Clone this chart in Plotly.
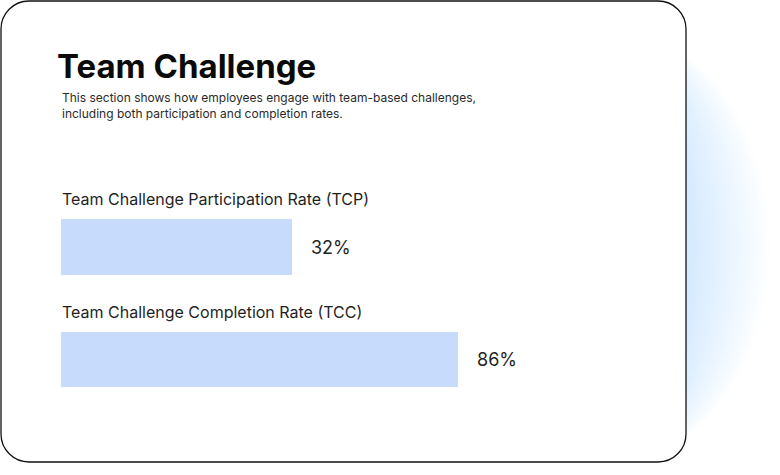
import plotly.graph_objects as go

# ---- data ----
categories = ["Team Challenge Participation Rate (TCP)", "Team Challenge Completion Rate (TCC)"]
rates = [32, 86]
rate_labels = ["32%", "86%"]
title_text = "Team Challenge"
subtitle_lines = [
    "This section shows how employees engage with team-based challenges,",
    "including both participation and completion rates.",
]

W, H = 780, 475
FONT = "Inter, Roboto, Arial, sans-serif"
BAR_COLOR = "#c7dbfc"

def px(x):
    return x / W

def py(y):
    return 1 - y / H

# each bar lives in its own container (own x-axis), as in the source layout
axis_max = [83, 130]
bar_rows = [(219, 275), (332, 387)]  # pixel rows of the two containers
x_dom = [px(61), px(661)]

fig = go.Figure()
annotations = []
layout_axes = {}
for i, (cat, val, lab) in enumerate(zip(categories, rates, rate_labels)):
    sfx = "" if i == 0 else str(i + 1)
    fig.add_trace(go.Bar(
        x=[val], y=[0], orientation="h", width=1,
        marker=dict(color=BAR_COLOR, line=dict(width=0)),
        xaxis="x" + sfx, yaxis="y" + sfx, hoverinfo="skip", showlegend=False,
    ))
    top, bot = bar_rows[i]
    layout_axes["xaxis" + sfx] = dict(domain=x_dom, range=[0, axis_max[i]], visible=False,
                                      anchor="y" + sfx, fixedrange=True)
    layout_axes["yaxis" + sfx] = dict(domain=[py(bot), py(top)], range=[-0.5, 0.5], visible=False,
                                      anchor="x" + sfx, fixedrange=True)
    annotations.append(dict(
        text=cat, xref="x" + sfx + " domain", yref="y" + sfx + " domain", x=0, y=1,
        xanchor="left", yanchor="middle", yshift=20, xshift=-1, showarrow=False,
        font=dict(family=FONT, size=16, color="#1f1f1f"),
    ))
    annotations.append(dict(
        text=lab, xref="x" + sfx, yref="y" + sfx, x=val, y=0,
        xanchor="left", yanchor="middle", xshift=17, showarrow=False,
        font=dict(family=FONT, size=18, color="#1f1f1f"),
    ))

annotations.append(dict(
    text="<b>" + title_text + "</b>", xref="paper", yref="paper", x=px(55), y=py(66),
    xanchor="left", yanchor="middle", showarrow=False,
    font=dict(family=FONT, size=33, color="#0a0a0a"),
))
annotations.append(dict(
    text="<br>".join(subtitle_lines), xref="paper", yref="paper", x=px(60), y=py(105),
    xanchor="left", yanchor="middle", align="left", showarrow=False,
    font=dict(family=FONT, size=12, color="#2a2a2a"),
))

shapes = []
# soft blue glow behind the card's right edge
N = 20
for k in range(N):
    t = k / (N - 1)
    rx = 150 - 75 * t
    ry = 212 - 8 * t
    cx, cy = 620, 246
    shapes.append(dict(
        type="circle", xref="paper", yref="paper", layer="below",
        x0=px(cx - rx), x1=px(cx + rx), y0=py(cy + ry), y1=py(cy - ry),
        fillcolor="#a6ccff", opacity=0.025, line=dict(width=0),
    ))

# card with rounded corners
x0, x1, y0, y1, r = 1, 686, 1, 462, 28
k_ = 0.5523 * r
def P(x, y):
    return f"{px(x):.5f},{py(y):.5f}"
path = (
    f"M {P(x0 + r, y0)} L {P(x1 - r, y0)} "
    f"C {P(x1 - r + k_, y0)} {P(x1, y0 + r - k_)} {P(x1, y0 + r)} "
    f"L {P(x1, y1 - r)} "
    f"C {P(x1, y1 - r + k_)} {P(x1 - r + k_, y1)} {P(x1 - r, y1)} "
    f"L {P(x0 + r, y1)} "
    f"C {P(x0 + r - k_, y1)} {P(x0, y1 - r + k_)} {P(x0, y1 - r)} "
    f"L {P(x0, y0 + r)} "
    f"C {P(x0, y0 + r - k_)} {P(x0 + r - k_, y0)} {P(x0 + r, y0)} Z"
)
shapes.append(dict(type="path", path=path, xref="paper", yref="paper", layer="below",
                   fillcolor="white", line=dict(color="#111111", width=1.3)))

fig.update_layout(
    width=W, height=H, margin=dict(l=0, r=0, t=0, b=0),
    paper_bgcolor="white", plot_bgcolor="rgba(0,0,0,0)",
    showlegend=False, bargap=0,
    annotations=annotations, shapes=shapes,
    **layout_axes,
)
fig.write_html("out.html", config={"displayModeBar": False},
               post_script="document.body.style.margin='0';document.body.style.overflow='hidden';")
